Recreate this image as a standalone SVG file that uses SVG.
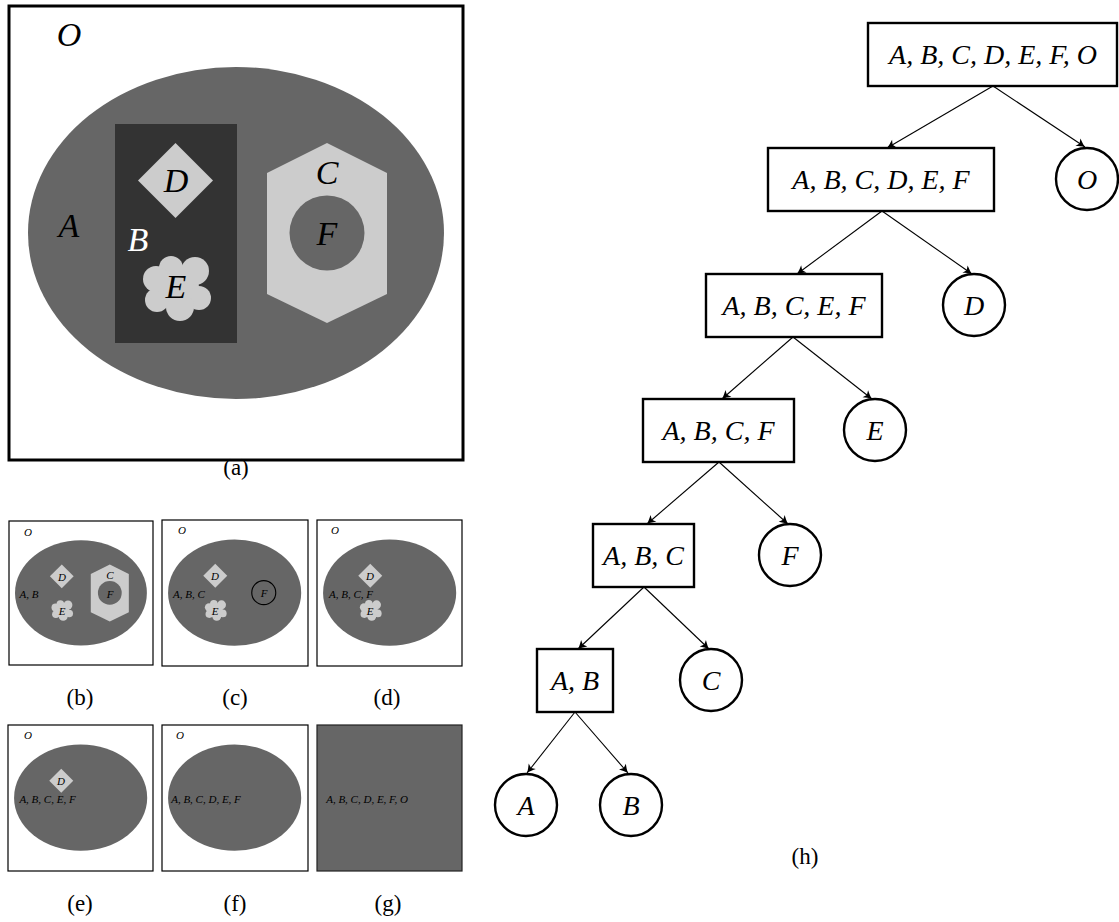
<svg xmlns="http://www.w3.org/2000/svg" xmlns:xlink="http://www.w3.org/1999/xlink" width="1119" height="922" viewBox="0 0 1119 922">
<style>
.m{font-family:"Liberation Serif","Times New Roman",serif;font-style:italic;fill:#000;text-anchor:middle}
.big{font-size:34px}
.tr{font-size:28px}
.sm{font-size:11px}
.cap{font-family:"Liberation Serif","Times New Roman",serif;font-size:23px;text-anchor:middle;fill:#000}
.box{fill:#fff;stroke:#000;stroke-width:2.4}
.edge{stroke:#000;stroke-width:1.1;fill:none;marker-end:url(#arr)}
.frame{fill:#fff;stroke:#000;stroke-width:1.2}
</style>
<defs>
<marker id="arr" viewBox="-10 -6 11 12" refX="0" refY="0" markerWidth="11" markerHeight="12" orient="auto" markerUnits="userSpaceOnUse">
<path d="M0,0 C-3,-1 -6,-3 -8.5,-4.5 L-6.5,0 L-8.5,4.5 C-6,3 -3,1 0,0 Z" fill="#000"/>
</marker>
<ellipse id="ell" cx="236" cy="233" rx="208" ry="166" fill="#666"/>
<polygon id="diam" points="175.5,143 213,180.5 175.5,218 138,180.5" fill="#ccc"/>
<g id="cloud" fill="#ccc">
<circle cx="177" cy="288" r="22"/>
<circle cx="171" cy="268" r="12"/>
<circle cx="195" cy="271" r="14"/>
<circle cx="199" cy="298" r="12"/>
<circle cx="180" cy="307" r="14"/>
<circle cx="157" cy="300" r="12"/>
<circle cx="156" cy="279" r="13"/>
</g>
<polygon id="hex" points="327,143 387,173 387,294 327,323 267,294 267,173" fill="#ccc"/>
<circle id="fc" cx="327" cy="233" r="37.5" fill="#666"/>
</defs>

<!-- panel (a) -->
<g id="panel-a">
<rect x="9" y="6" width="454" height="454" fill="#fff" stroke="#000" stroke-width="3"/>
<use xlink:href="#ell"/>
<rect x="115" y="124" width="122" height="219" fill="#333"/>
<use xlink:href="#diam"/>
<use xlink:href="#cloud"/>
<use xlink:href="#hex"/>
<use xlink:href="#fc"/>
<text class="m big" x="69" y="46">O</text>
<text class="m big" x="69" y="237">A</text>
<text class="m big" x="138" y="251" style="fill:#fff">B</text>
<text class="m big" x="176" y="192">D</text>
<text class="m big" x="176" y="298">E</text>
<text class="m big" x="327" y="184">C</text>
<text class="m big" x="327" y="245">F</text>
<text class="cap" x="236" y="475">(a)</text>
</g>

<!-- panel (b) -->
<g id="panel-b">
<rect class="frame" x="9" y="521" width="144" height="144"/>
<g transform="translate(9,521) scale(0.317) translate(-9,-6)">
<use xlink:href="#ell"/><use xlink:href="#diam"/><use xlink:href="#cloud"/><use xlink:href="#hex"/><use xlink:href="#fc"/>
</g>
<text class="m sm" x="28" y="535.5">O</text>
<text class="m sm" x="29" y="597.5">A, B</text>
<text class="m sm" x="62" y="580.5">D</text>
<text class="m sm" x="62" y="614.5">E</text>
<text class="m sm" x="110" y="578.5">C</text>
<text class="m sm" x="110" y="598">F</text>
<text class="cap" x="80" y="705">(b)</text>
</g>

<!-- panel (c) -->
<g id="panel-c">
<rect class="frame" x="162" y="520" width="146" height="146"/>
<g transform="translate(162,520) scale(0.32) translate(-9,-6)">
<use xlink:href="#ell"/><use xlink:href="#diam"/><use xlink:href="#cloud"/>
<circle cx="327" cy="233" r="37.5" fill="none" stroke="#000" stroke-width="3.5"/>
</g>
<text class="m sm" x="182" y="533.5">O</text>
<text class="m sm" x="189" y="597.5">A, B, C</text>
<text class="m sm" x="215" y="579.5">D</text>
<text class="m sm" x="215" y="614.5">E</text>
<text class="m sm" x="264" y="597">F</text>
<text class="cap" x="235" y="705">(c)</text>
</g>

<!-- panel (d) -->
<g id="panel-d">
<rect class="frame" x="317" y="520" width="145" height="146"/>
<g transform="translate(317,520) scale(0.32) translate(-9,-6)">
<use xlink:href="#ell"/><use xlink:href="#diam"/><use xlink:href="#cloud"/>
</g>
<text class="m sm" x="335" y="533.5">O</text>
<text class="m sm" x="351" y="597.5">A, B, C, F</text>
<text class="m sm" x="370" y="579.5">D</text>
<text class="m sm" x="370" y="614.5">E</text>
<text class="cap" x="387" y="705">(d)</text>
</g>

<!-- panel (e) -->
<g id="panel-e">
<rect class="frame" x="8" y="725" width="145" height="146"/>
<g transform="translate(8,725) scale(0.32) translate(-9,-6)">
<use xlink:href="#ell"/><use xlink:href="#diam"/>
</g>
<text class="m sm" x="28" y="738.5">O</text>
<text class="m sm" x="61" y="784.5">D</text>
<text class="m sm" x="47.5" y="802.5">A, B, C, E, F</text>
<text class="cap" x="80" y="911">(e)</text>
</g>

<!-- panel (f) -->
<g id="panel-f">
<rect class="frame" x="162" y="725" width="146" height="146"/>
<g transform="translate(162,725) scale(0.32) translate(-9,-6)">
<use xlink:href="#ell"/>
</g>
<text class="m sm" x="180" y="738.5">O</text>
<text class="m sm" x="206" y="802.5">A, B, C, D, E, F</text>
<text class="cap" x="235" y="911">(f)</text>
</g>

<!-- panel (g) -->
<g id="panel-g">
<rect x="317" y="725" width="145" height="146" fill="#666" stroke="#222" stroke-width="1.2"/>
<text class="m sm" x="367" y="802.5">A, B, C, D, E, F, O</text>
<text class="cap" x="388" y="911">(g)</text>
</g>

<!-- tree (h) -->
<g id="connectors">
<line class="edge" x1="993" y1="86" x2="887" y2="148"/>
<line class="edge" x1="993" y1="86" x2="1085" y2="147"/>
<line class="edge" x1="882" y1="211" x2="797" y2="274"/>
<line class="edge" x1="882" y1="211" x2="972" y2="274"/>
<line class="edge" x1="793" y1="337" x2="722" y2="399"/>
<line class="edge" x1="793" y1="337" x2="872" y2="399"/>
<line class="edge" x1="719" y1="462" x2="647" y2="524"/>
<line class="edge" x1="719" y1="462" x2="788" y2="524"/>
<line class="edge" x1="644" y1="587" x2="578" y2="649"/>
<line class="edge" x1="644" y1="587" x2="709" y2="649"/>
<line class="edge" x1="575" y1="712" x2="527" y2="773"/>
<line class="edge" x1="575" y1="712" x2="628" y2="773"/>
</g>
<g id="n-root"><rect class="box" x="868" y="23" width="249" height="63"/><text class="m tr" x="993" y="64">A, B, C, D, E, F, O</text></g>
<g id="n-abcdef"><rect class="box" x="768" y="148" width="226" height="63"/><text class="m tr" x="881" y="189">A, B, C, D, E, F</text></g>
<g id="n-O"><circle class="box" cx="1087" cy="179" r="31"/><text class="m tr" x="1087" y="189">O</text></g>
<g id="n-abcef"><rect class="box" x="706" y="274" width="176" height="63"/><text class="m tr" x="794" y="315">A, B, C, E, F</text></g>
<g id="n-D"><circle class="box" cx="974" cy="305" r="31"/><text class="m tr" x="974" y="315">D</text></g>
<g id="n-abcf"><rect class="box" x="643" y="399" width="151" height="63"/><text class="m tr" x="718.5" y="440">A, B, C, F</text></g>
<g id="n-E"><circle class="box" cx="875" cy="430" r="31"/><text class="m tr" x="875" y="440">E</text></g>
<g id="n-abc"><rect class="box" x="593" y="524" width="101" height="63"/><text class="m tr" x="643.5" y="565">A, B, C</text></g>
<g id="n-F"><circle class="box" cx="790" cy="555" r="31"/><text class="m tr" x="790" y="565">F</text></g>
<g id="n-ab"><rect class="box" x="537" y="649" width="76" height="63"/><text class="m tr" x="575" y="690">A, B</text></g>
<g id="n-C"><circle class="box" cx="711" cy="680" r="31"/><text class="m tr" x="711" y="690">C</text></g>
<g id="n-A"><circle class="box" cx="526" cy="805" r="31"/><text class="m tr" x="526" y="815">A</text></g>
<g id="n-B"><circle class="box" cx="631" cy="805" r="31"/><text class="m tr" x="631" y="815">B</text></g>
<text class="cap" x="805" y="864">(h)</text>
</svg>
